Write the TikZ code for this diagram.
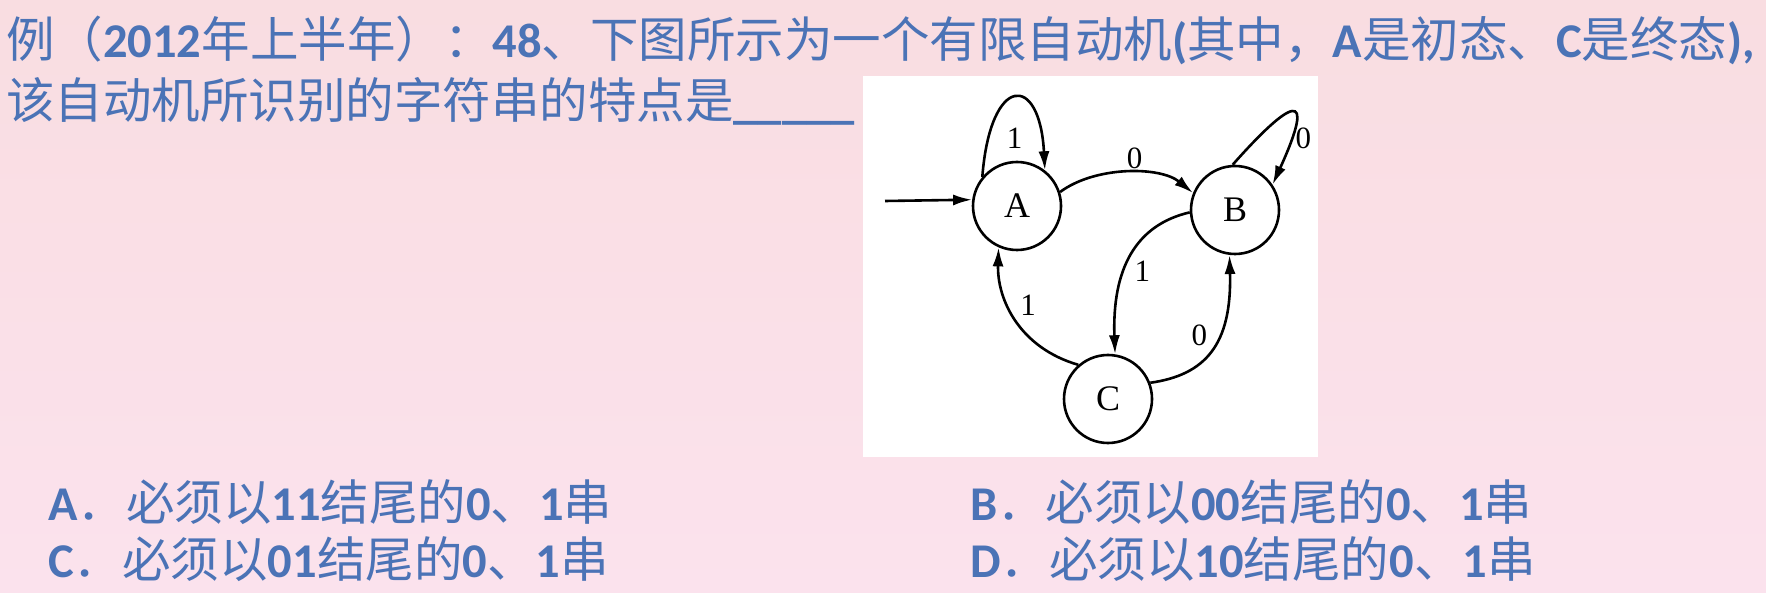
\documentclass[tikz,border=0pt]{standalone}
\usepackage{fontspec}
\setmainfont{Carlito}
\newfontfamily\cjk{Noto Sans CJK SC}
\newfontfamily\dfafont{Liberation Serif}
\usepackage{tikz}
\usetikzlibrary{automata,positioning,arrows.meta}
\definecolor{qblue}{RGB}{75,115,182}
\definecolor{pinktop}{RGB}{249,221,225}
\definecolor{pinkbot}{RGB}{251,226,237}
\newcommand{\enb}[1]{{\rmfamily\bfseries #1}}

\begin{document}
\begin{tikzpicture}[x=1pt,y=-1pt,
	fsm/.style={state,minimum size=88pt,inner sep=0pt,line width=2.6pt,fill=white,font=\dfafont\fontsize{36}{36}\selectfont},
	trans/.style={line width=2.6pt,-{Latex[length=19pt,width=11pt]}},
	lbl/.style={font=\dfafont\fontsize{31}{31}\selectfont,inner sep=3pt},
	qtext/.style={anchor=base west,inner sep=0pt,text=qblue,font=\cjk\fontsize{48.5}{50}\selectfont}]
		%Background
		\shade[top color=pinktop,bottom color=pinkbot] (0,0) rectangle (1766,593);
		\useasboundingbox (0,0) rectangle (1766,593);
		\fill[white] (863,76) rectangle (1318,457);
		%Question
		\node[qtext] (line1) at (6,58) {例（\enb{2012}年上半年）：\enb{48}、下图所示为一个有限自动机\enb{(}其中，\enb{A}是初态、\enb{C}是终态\enb{),}};
		\node[qtext] (line2) at (6,119) {该自动机所识别的字符串的特点是\enb{\_\_\_\_\_}};
		%Options
		\node[qtext] (optA) at (48,520) {\enb{A}．必须以\enb{11}结尾的\enb{0}、\enb{1}串};
		\node[qtext] (optB) at (970,520) {\enb{B}．必须以\enb{00}结尾的\enb{0}、\enb{1}串};
		\node[qtext] (optC) at (48,577) {\enb{C}．必须以\enb{01}结尾的\enb{0}、\enb{1}串};
		\node[qtext] (optD) at (970,577) {\enb{D}．必须以\enb{10}结尾的\enb{0}、\enb{1}串};
		%States
		\node[fsm] (A) at (1017,206) {A};
		\node[fsm] (B) at (1235,210) {B};
		\node[fsm] (C) at (1108,399) {C};
		\coordinate (start) at (885,201);
		%Transitions
		\draw[trans] (start) -- (A.172);
		\draw[trans] (A.140) .. controls +(8,-103) and +(-5,-98) .. node[lbl,pos=0.5,yshift=-40pt] (lAA) {1} (A.52);
		\draw[trans] (A.18) .. controls (1095,166) and (1160,166) .. node[lbl,above,pos=0.55] (lAB) {0} (B.158);
		\draw[trans] (B.93) .. controls (1290,100) and (1318,85) .. node[lbl,pos=0.8,right] (lBB) {0} (B.34);
		\draw[trans] (B.183) .. controls (1135,225) and (1112,270) .. node[lbl,pos=0.6,right=6pt] (lBC) {1} (C.81);
		\draw[trans] (C.131) .. controls (1020,348) and (997,300) .. node[lbl,above right] (lCA) {1} (A.246);
		\draw[trans] (C.21) .. controls (1205,375) and (1232,345) .. node[lbl,above left] (lCB) {0} (B.263);
\end{tikzpicture}
\end{document}
